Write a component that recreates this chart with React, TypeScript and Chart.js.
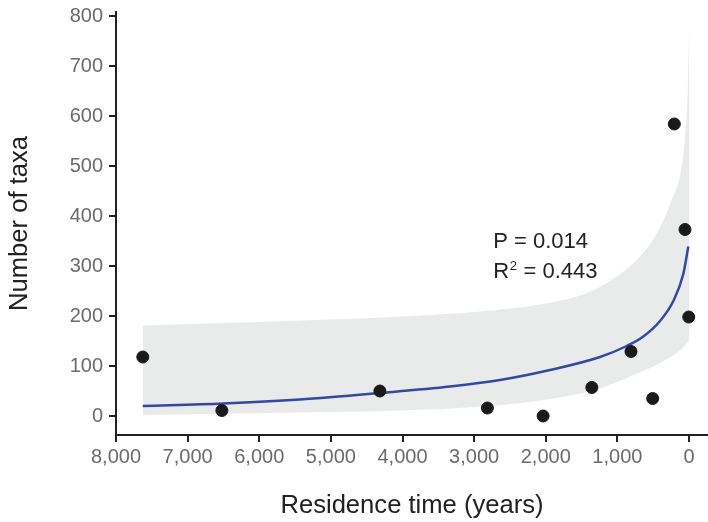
import React, { useEffect, useRef } from 'react';
import { Chart, registerables } from 'chart.js';

Chart.register(...registerables);

// Observed data points
const pointTimes = [7626, 6522, 4316, 2815, 2037, 1357, 810, 507, 205, 56, 4];
const pointTaxa = [118, 11, 50, 16, 0, 57, 129, 35, 584, 373, 198];

// Fitted curve
const fitTimes = [7626, 6500, 5433, 4316, 3338, 2640, 1941, 1243, 870, 638, 405, 219, 80, 10];
const fitTaxa = [20, 25, 33, 46, 59, 72, 92, 118, 140, 159, 190, 230, 284, 339];

// Confidence band
const upperTimes = [7626, 6000, 4000, 3000, 2000, 1425, 1010, 684, 451, 242, 102, 50, 20, 0];
const upperTaxa = [181, 188, 199, 208, 225, 246, 279, 319, 365, 432, 499, 570, 640, 775];
const lowerTimes = [7626, 5433, 4036, 2877, 2179, 1480, 1243, 870, 405, 150, 0];
const lowerTaxa = [2, 7, 11, 19, 29, 46, 55, 76, 106, 128, 149];

const xTicks = [8000, 7000, 6000, 5000, 4000, 3000, 2000, 1000, 0];
const yTicks = [0, 100, 200, 300, 400, 500, 600, 700, 800];

const annotX = 2733;
const pLabelY = 336;
const r2LabelY = 276;

const FONT = "'Liberation Sans', Arial, Helvetica, sans-serif";

const toXY = (xs: number[], ys: number[]) => xs.map((x, i) => ({ x, y: ys[i] }));

const annotationPlugin = {
  id: 'statsText',
  afterDatasetsDraw(chart: any) {
    const { ctx, scales } = chart;
    const x = scales.x.getPixelForValue(annotX);
    const yP = scales.y.getPixelForValue(pLabelY);
    const yR = scales.y.getPixelForValue(r2LabelY);
    ctx.save();
    ctx.fillStyle = '#222222';
    ctx.textBaseline = 'alphabetic';
    ctx.textAlign = 'left';
    ctx.font = `22px ${FONT}`;
    ctx.fillText('P = 0.014', x, yP);
    ctx.fillText('R', x, yR);
    const rw = ctx.measureText('R').width;
    ctx.font = `13px ${FONT}`;
    ctx.fillText('2', x + rw + 0.5, yR - 8);
    const sw = ctx.measureText('2').width;
    ctx.font = `22px ${FONT}`;
    ctx.fillText(' = 0.443', x + rw + sw + 1, yR);
    ctx.restore();
  },
};

export default function App() {
  const ref = useRef<HTMLCanvasElement | null>(null);

  useEffect(() => {
    if (!ref.current) return;
    const chart = new Chart(ref.current, {
      type: 'line',
      data: {
        datasets: [
          {
            label: 'upper',
            data: toXY(upperTimes, upperTaxa),
            borderWidth: 0,
            borderColor: 'rgba(0,0,0,0)',
            pointRadius: 0,
            backgroundColor: '#e9eaea',
            fill: '+1',
            cubicInterpolationMode: 'monotone',
            order: 3,
          },
          {
            label: 'lower',
            data: toXY(lowerTimes, lowerTaxa),
            borderWidth: 0,
            borderColor: 'rgba(0,0,0,0)',
            pointRadius: 0,
            fill: false,
            cubicInterpolationMode: 'monotone',
            order: 3,
          },
          {
            label: 'fit',
            data: toXY(fitTimes, fitTaxa),
            borderColor: '#3447a6',
            borderWidth: 2.5,
            pointRadius: 0,
            fill: false,
            cubicInterpolationMode: 'monotone',
            order: 2,
          },
          {
            type: 'scatter' as any,
            label: 'taxa',
            data: toXY(pointTimes, pointTaxa),
            backgroundColor: '#1a1a1a',
            borderColor: '#1a1a1a',
            pointRadius: 6,
            showLine: false,
            clip: false,
            order: 1,
          } as any,
        ],
      },
      options: {
        responsive: false,
        animation: false,
        layout: { autoPadding: false, padding: { top: 12, right: 0, left: 0, bottom: 0 } },
        plugins: {
          legend: { display: false },
          tooltip: { enabled: false },
        },
        scales: {
          x: {
            type: 'linear',
            reverse: true,
            min: -265,
            max: 8000,
            afterBuildTicks: (s: any) => {
              s.ticks = xTicks.map((v) => ({ value: v }));
            },
            afterFit: (s: any) => {
              s.height = 87;
              s.paddingRight = 0;
              s.paddingLeft = 0;
            },
            border: { display: true, color: '#222222', width: 2 },
            grid: { drawOnChartArea: false, drawTicks: true, tickLength: 7, color: '#222222', lineWidth: 2 },
            ticks: {
              color: '#6b6b6b',
              font: { family: FONT, size: 20 },
              padding: 3.5,
              maxRotation: 0,
              callback: (v: any) => Number(v).toLocaleString('en-US'),
            },
            title: {
              display: true,
              text: 'Residence time (years)',
              color: '#222222',
              font: { family: FONT, size: 25.6 },
              padding: { top: 0, bottom: 1 },
            },
          },
          y: {
            type: 'linear',
            min: -38,
            max: 808,
            afterBuildTicks: (s: any) => {
              s.ticks = yTicks.map((v) => ({ value: v }));
            },
            afterFit: (s: any) => {
              s.width = 116;
              s.paddingTop = 0;
              s.paddingBottom = 0;
            },
            border: { display: true, color: '#222222', width: 2 },
            grid: { drawOnChartArea: false, drawTicks: true, tickLength: 7, color: '#222222', lineWidth: 2 },
            ticks: {
              color: '#6b6b6b',
              font: { family: FONT, size: 20 },
              padding: 6,
            },
            title: {
              display: true,
              text: 'Number of taxa',
              color: '#222222',
              font: { family: FONT, size: 25.6 },
              padding: { top: 4.5, bottom: 0 },
            },
          },
        },
      },
      plugins: [annotationPlugin],
    });
    return () => chart.destroy();
  }, []);

  return (
    <div style={{ position: 'absolute', left: 0, top: 0, width: 708, height: 522, background: '#ffffff' }}>
      <canvas ref={ref} width={708} height={522} />
    </div>
  );
}
